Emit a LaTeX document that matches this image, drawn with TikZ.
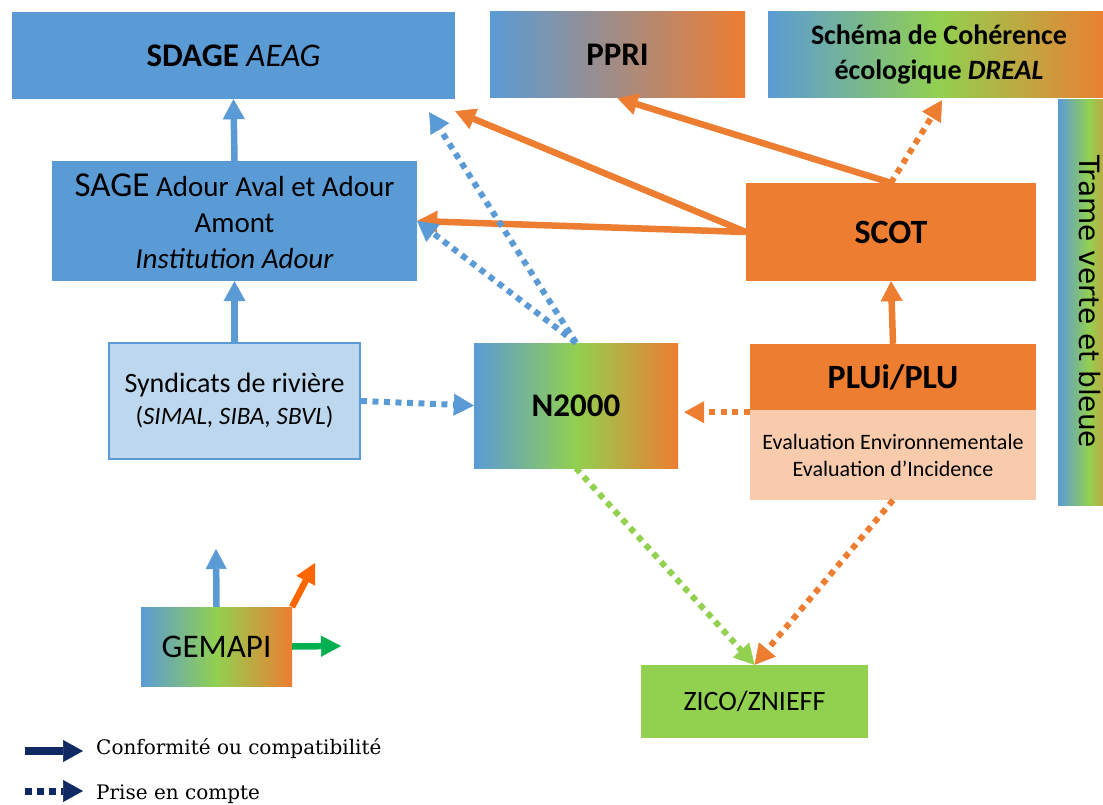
\documentclass[tikz,border=0pt]{standalone}
\usepackage{fontspec}
\setmainfont{Carlito}
\newfontfamily\legendfont{DejaVu Serif}
\newfontfamily\tramefont{DejaVu Sans}
\usetikzlibrary{arrows.meta,calc}
\definecolor{cblue}{HTML}{5B9BD5}
\definecolor{corange}{HTML}{ED7D31}
\definecolor{cgreen}{HTML}{92D050}
\definecolor{cltblue}{HTML}{BDD7EE}
\definecolor{cpeach}{HTML}{F8CBAD}
\definecolor{gorange}{HTML}{FF6600}
\definecolor{ggreen}{HTML}{00B050}
\definecolor{cnavy}{RGB}{16,40,100}
\pgfdeclarehorizontalshading{bgo}{100bp}{color(0bp)=(cblue); color(25bp)=(cblue); color(50bp)=(cgreen); color(75bp)=(corange); color(100bp)=(corange)}
\tikzset{
  box/.style={inner sep=0pt, align=center, text=black},
  fs/.style 2 args={font=\fontsize{#1}{#2}\selectfont},
  conf/.style={line width=6.5pt, -{Triangle[length=20pt,width=22pt,line width=0.5pt]}},
  prise/.style={line width=6pt, dash pattern=on 6pt off 5.5pt, -{Triangle[length=20pt,width=22pt,line width=0.5pt]}},
  gconf/.style={line width=6.5pt, -{Triangle[length=20pt,width=21pt,line width=0.5pt]}},
  lconf/.style={line width=8pt, -{Triangle[length=20pt,width=22pt,line width=0.5pt]}},
  lprise/.style={line width=7pt, dash pattern=on 7pt off 5pt, -{Triangle[length=20pt,width=22pt,line width=0.5pt]}},
}
\begin{document}
\begin{tikzpicture}[x=1pt,y=-1pt]
\useasboundingbox (0,0) rectangle (1103,805);
\clip (0,0) rectangle (1103,805);
% boxes
\node[box, fill=cblue, minimum width=443pt, minimum height=87pt, fs={33}{40}] (sdage) at (233.5,55.5) {\textbf{SDAGE} \textit{AEAG}};
\node[box, left color=cblue, right color=corange, minimum width=255pt, minimum height=86pt, fs={33}{40}] (ppri) at (617.5,55) {\textbf{PPRI}};
\node[box, shading=bgo, minimum width=342pt, minimum height=86pt, fs={28}{35}] (schema) at (939,55) {\textbf{Schéma de Cohérence}\\\textbf{écologique \textit{DREAL}}};
\node[box, shading=bgo, minimum width=62pt, minimum height=405pt] (trame) at (1089,302.5) {};
\node[rotate=-90, inner sep=0pt, font=\tramefont\fontsize{28}{30}\selectfont] (trametxt) at (1090,302) {Trame verte et bleue};
\node[box, fill=cblue, minimum width=365pt, minimum height=120pt, fs={29}{36}] (sage) at (234.5,221) {{\fontsize{35}{36}\selectfont SAGE} Adour Aval et Adour\\Amont\\\textit{Institution Adour}};
\node[box, fill=cltblue, draw=cblue, line width=2pt, minimum width=251pt, minimum height=116pt, fs={28}{32}] (syn) at (234.5,401) {Syndicats de rivière\\{\fontsize{25}{32}\selectfont (\textit{SIMAL, SIBA, SBVL})}};
\node[box, shading=bgo, minimum width=204pt, minimum height=125pt, fs={33}{40}] (n2000) at (576,405.5) {\textbf{N2000}};
\node[box, fill=corange, minimum width=290pt, minimum height=98pt, fs={34}{40}] (scot) at (891,232) {\textbf{SCOT}};
\node[box, fill=corange, minimum width=286pt, minimum height=66pt, fs={34}{40}] (plu) at (893,377) {\textbf{PLUi/PLU}};
\node[box, fill=cpeach, minimum width=286pt, minimum height=90pt, fs={22}{27}] (eval) at (893,455) {Evaluation Environnementale\\Evaluation d’Incidence};
\node[box, fill=cgreen, minimum width=227pt, minimum height=73pt, fs={28}{32}] (zico) at (754.5,701.5) {ZICO/ZNIEFF};
\node[box, shading=bgo, minimum width=151pt, minimum height=79pt, fs={33}{38}] (gemapi) at (216.5,646.5) {GEMAPI};
% helper coordinates
\coordinate (sdtipA) at ($(sdage.south east)+(0,12)$);
\coordinate (sdtipB) at ($(sdage.south east)+(-26,13)$);
\coordinate (schtip) at ($(schema.south)+(3,2)$);
\coordinate (n2tip) at ($(n2000.east |- plu.south west)+(6,2)$);
\coordinate (pluL) at ($(plu.south west)+(0,2)$);
% connectors
\draw[conf,cblue] (sage.north) -- (sdage.south);
\draw[conf,cblue] (syn.north) -- (sage.south);
\draw[conf,corange] (scot.west) -- (sdtipA);
\draw[conf,corange] (scot.west) -- (sage.east);
\draw[conf,corange] (scot.north) -- (ppri.south);
\draw[prise,corange] (scot.north) -- (schtip);
\draw[conf,corange] (plu.north) -- (scot.south);
\draw[prise,corange] (pluL) -- (n2tip);
\draw[prise,cblue] (syn.east) -- (n2000.west);
\draw[prise,cblue] (n2000.north) -- (sdtipB);
\draw[prise,cblue] (n2000.north) -- (sage.east);
\draw[prise,cgreen] (n2000.south) -- (zico.north);
\draw[prise,corange] (eval.south) -- (zico.north);
% GEMAPI arrows
\coordinate (gA) at (216,549);
\coordinate (gB) at (315,563);
\coordinate (gC) at (341,646);
\coordinate (gBs) at (292,607);
\draw[gconf,cblue] (gemapi.north) -- (gA);
\draw[gconf,gorange] (gBs) -- (gB);
\draw[gconf,ggreen] (gemapi.east) -- (gC);
% legend
\coordinate (la1) at (25,751);
\coordinate (la2) at (83,751);
\coordinate (lb1) at (25,791);
\coordinate (lb2) at (83,791);
\draw[lconf,cnavy] (la1) -- (la2);
\draw[lprise,cnavy] (lb1) -- (lb2);
\node[anchor=base west, inner sep=0pt, font=\legendfont\fontsize{20}{24}\selectfont] (leg1) at (96,754) {Conformité ou compatibilité};
\node[anchor=base west, inner sep=0pt, font=\legendfont\fontsize{20}{24}\selectfont] (leg2) at (96,799) {Prise en compte};
\end{tikzpicture}
\end{document}
